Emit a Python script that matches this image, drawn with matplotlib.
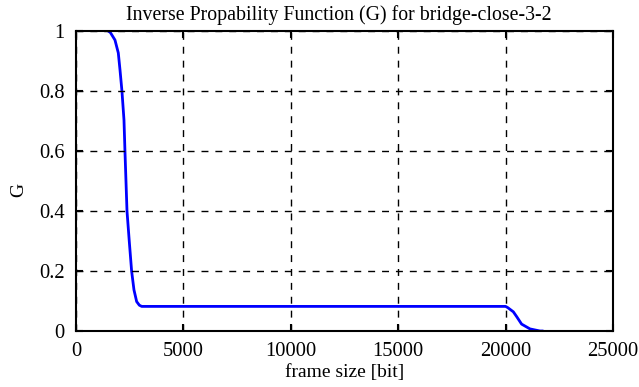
import matplotlib
matplotlib.use("Agg")
import matplotlib.pyplot as plt

# curve
frame_size = [1500, 1600, 1815, 1970, 2050, 2140, 2235, 2280, 2375, 2480, 2590,
              2700, 2825, 2950, 3060, 20000, 20100, 20360, 20515, 20745, 21135,
              21600, 21700]
g_values = [1.0, 0.995, 0.97, 0.927, 0.87, 0.8, 0.703, 0.6, 0.4, 0.3, 0.2,
            0.137, 0.098, 0.086, 0.082, 0.082, 0.078, 0.064, 0.048, 0.023, 0.007,
            0.0, 0.0]
x_ticks = [0, 5000, 10000, 15000, 20000, 25000]
y_ticks = [0, 0.2, 0.4, 0.6, 0.8, 1]
y_labels = ["0", "0.2", "0.4", "0.6", "0.8", "1"]

plt.rcParams["font.family"] = ["Liberation Serif", "DejaVu Serif"]
plt.rcParams["font.size"] = 14

figure = plt.figure(figsize=(6.39, 3.87), dpi=100)
axis = figure.add_axes([0.1189, 0.1447, 0.8404, 0.7752])
axis.plot(frame_size, g_values, color="#0000ff", linewidth=2, zorder=1.5)
axis.set_xlim(0, 25000)
axis.set_ylim(0, 1)
axis.set_xticks(x_ticks)
axis.set_yticks(y_ticks)
axis.set_yticklabels(y_labels)
axis.grid(True, color="black", linestyle=(0, (5, 5)), linewidth=1)
axis.tick_params(direction="in", top=True, right=True, length=5, width=1.5,
                 pad=8, labelsize=14.8)
for spine in axis.spines.values():
    spine.set_linewidth(1.5)
axis.set_title("Inverse Propability Function (G) for bridge-close-3-2",
               fontsize=14.3, pad=8, x=0.49)
axis.set_xlabel("frame size [bit]", labelpad=2)
axis.set_ylabel("G")
axis.yaxis.set_label_coords(-0.09, 0.47)
figure.savefig("out.png", dpi=100)
